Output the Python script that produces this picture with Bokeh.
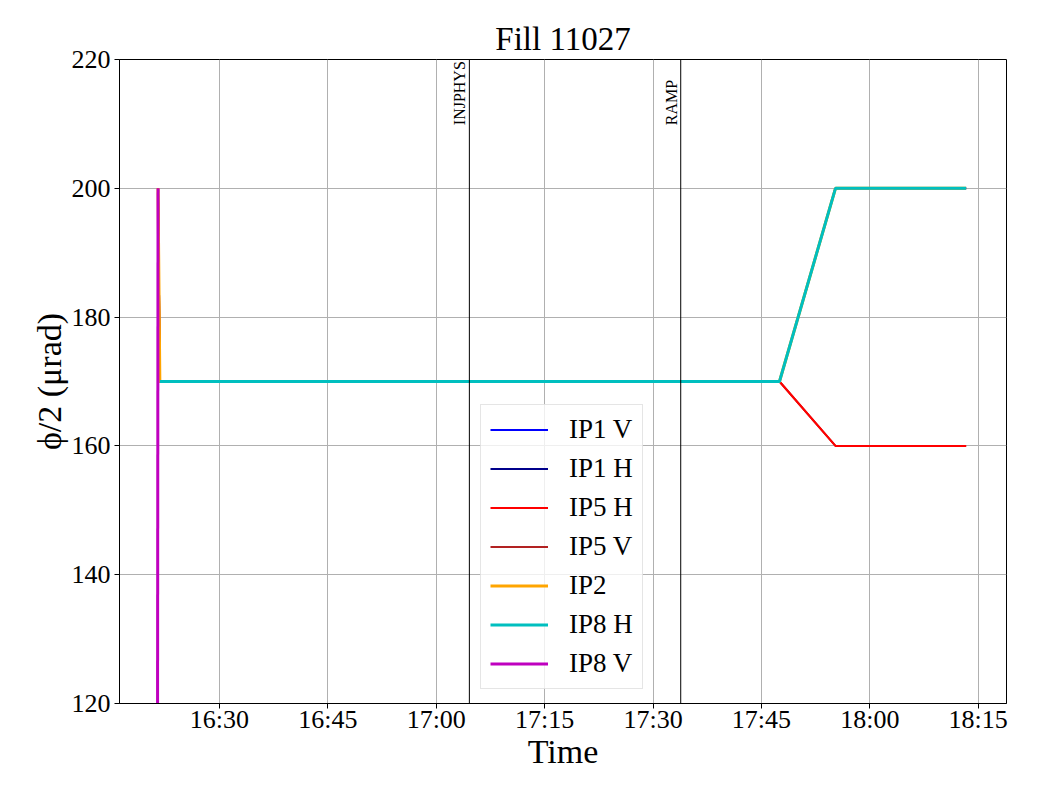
import math
import pandas as pd
from bokeh.plotting import figure
from bokeh.models import (Range1d, FixedTicker, DatetimeTickFormatter, Span, Label,
                          Legend, LegendItem)
from bokeh.embed import file_html
from bokeh.resources import INLINE

DAY = "2025-07-10 "
FONT = "Liberation Serif"

def ts(s):
    return pd.Timestamp(DAY + s)

def ms(s):
    return ts(s).value / 1e6

# ---- data ----
times_main = ["16:21:30", "16:21:45", "17:47:30", "17:55:15", "18:13:20"]
ip1_v = [200, 170, 170, 200, 200]
ip1_h = [200, 170, 170, 200, 200]
ip5_h = [200, 170, 170, 160, 160]
ip5_v = [200, 170, 170, 160, 160]
ip2 = [200, 170, 170, 200, 200]
times_ip8h = ["16:21:45", "17:47:30", "17:55:15", "18:13:20"]
ip8_h = [170, 170, 200, 200]
times_ip8v = ["16:21:20", "16:21:30"]
ip8_v = [0, 200]

# legend order
series = [
    ("IP1 V", times_main, ip1_v, "#0000ff", 2),
    ("IP1 H", times_main, ip1_h, "#00008b", 2),
    ("IP5 H", times_main, ip5_h, "#ff0000", 2),
    ("IP5 V", times_main, ip5_v, "#b22222", 2),
    ("IP2", times_main, ip2, "#ffa500", 3),
    ("IP8 H", times_ip8h, ip8_h, "#00bfbf", 3),
    ("IP8 V", times_ip8v, ip8_v, "#bf00bf", 3),
]
draw_order = ["IP1 V", "IP1 H", "IP5 V", "IP5 H", "IP2", "IP8 H", "IP8 V"]

events = [("INJPHYS", "17:04:35"), ("RAMP", "17:33:50")]
x_ticks = ["16:30", "16:45", "17:00", "17:15", "17:30", "17:45", "18:00", "18:15"]
y_ticks = [120, 140, 160, 180, 200, 220]

p = figure(width=1032, height=792, x_axis_type="datetime",
           output_backend="svg", toolbar_location=None,
           x_range=Range1d(ms("16:16:10"), ms("18:18:55")),
           y_range=Range1d(120, 220),
           min_border_left=119, min_border_right=26,
           min_border_top=59, min_border_bottom=89,
           title="Fill 11027")

p.title.text_font = FONT
p.title.text_font_size = "33px"
p.title.text_font_style = "normal"
p.title.text_color = "black"
p.title.align = "center"
p.title.standoff = 6

p.outline_line_color = "black"
p.outline_line_alpha = 1
p.outline_line_width = 1
p.background_fill_color = "white"
p.border_fill_color = "white"

p.xaxis.ticker = FixedTicker(ticks=[ms(t + ":00") for t in x_ticks])
p.xaxis.formatter = DatetimeTickFormatter(seconds="%H:%M", minsec="%H:%M", minutes="%H:%M",
                                          hourmin="%H:%M", hours="%H:%M", days="%H:%M")
p.yaxis.ticker = FixedTicker(ticks=y_ticks)

for ax in (p.xaxis, p.yaxis):
    ax.major_label_text_font = FONT
    ax.major_label_text_font_size = "26px"
    ax.major_label_text_color = "black"
    ax.axis_label_text_font = FONT
    ax.axis_label_text_font_size = "34px"
    ax.axis_label_text_font_style = "normal"
    ax.axis_label_text_color = "black"
    ax.major_tick_out = 5
    ax.major_tick_in = 0
    ax.minor_tick_line_color = None
    ax.axis_line_color = "black"
    ax.major_tick_line_color = "black"

p.xaxis.major_label_standoff = -4
p.xaxis.axis_label_standoff = -4
p.yaxis.major_label_standoff = 4
p.yaxis.axis_label_standoff = 1

p.xaxis.axis_label = "Time"
p.yaxis.axis_label = "ϕ/2 (μrad)"

p.grid.grid_line_color = "#b0b0b0"
p.grid.grid_line_width = 1

by_name = {}
for name in draw_order:
    _, t, v, color, w = next(s for s in series if s[0] == name)
    by_name[name] = p.line([ts(s) for s in t], v, line_color=color, line_width=w)

for name, t in events:
    x = ms(t)
    p.add_layout(Span(location=x, dimension="height", line_color="black", line_width=1))
    p.add_layout(Label(x=x, y=209.8, text=name, angle=math.pi / 2,
                       text_align="left", text_baseline="bottom", text_color="black",
                       text_font=FONT, text_font_size="16px", x_offset=-1))

legend = Legend(items=[LegendItem(label=s[0], renderers=[by_name[s[0]]]) for s in series],
                location=(361, 14), margin=0, padding=9, spacing=8,
                glyph_width=58, glyph_height=31, label_height=31, label_standoff=21,
                label_text_font=FONT, label_text_font_size="27px", label_text_color="black",
                background_fill_alpha=0.8, border_line_color="#cccccc",
                border_line_width=1)
p.add_layout(legend)

open("out.html", "w").write(file_html(p, INLINE))
